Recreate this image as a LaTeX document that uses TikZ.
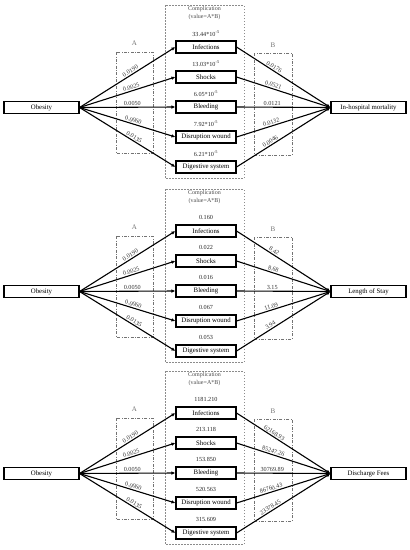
\documentclass[tikz,border=0pt]{standalone}
\usepackage{fontspec}
\setmainfont{Liberation Serif}
\usetikzlibrary{arrows.meta}

\tikzset{
  var/.style={draw, line width=1.1pt, fill=white, minimum width=75pt, minimum height=12pt,
    inner sep=0pt, font=\fontsize{6.8}{7}\selectfont},
  comp/.style={var, minimum width=60pt},
  link/.style={line width=1.1pt, -{Latex[length=4pt,width=3.5pt]}},
  coef/.style={sloped, above, inner sep=1pt, text=black!80, font=\fontsize{6.2}{7}\selectfont},
  valtxt/.style={inner sep=0pt, text=black!85, font=\fontsize{6.2}{7}\selectfont},
  lbl/.style={inner sep=0pt, text=black!70, font=\fontsize{6}{7}\selectfont},
  cbox/.style={draw=black!45, thin, dash pattern=on 1.5pt off 1.5pt},
  abox/.style={draw=black!55, thin, dash pattern=on 3pt off 1.5pt on 0.8pt off 1.5pt}
}

% one mediation panel: #1 id, #2 vertical offset, #3 outcome, #4 complication/value/A/B
\newcommand{\medpanel}[4]{%
  \begin{scope}[yshift=-#2pt]
    % Complication frame
    \draw[cbox] (165,5) rectangle (244,178);
    \node[lbl] (cmp#1) at (204.5,9.5) {Complication};
    \node[lbl] (ab#1) at (204.5,17.5) {(value=A*B)};
    % A and B frames
    \draw[abox] (116,52) rectangle (153,153);
    \node[lbl, text=black!55, font=\fontsize{7}{8}\selectfont] (A#1) at (134.5,43) {A};
    \draw[abox] (254,53) rectangle (292,155);
    \node[lbl, text=black!55, font=\fontsize{7}{8}\selectfont] (B#1) at (273,45) {B};
    % Exposure and outcome
    \node[var] (obe#1) at (41.5,107.5) {Obesity};
    \node[var] (out#1) at (368.5,107.5) {#3};
    % Complications and paths
    \foreach \comp/\val/\av/\bv [count=\i] in {#4} {
      \node[comp] (c#1\i) at (206,17+30*\i) {\comp};
      \node[valtxt] (v#1\i) at (206,3.5+30*\i) {\val};
      \draw[link] (obe#1.east) -- (c#1\i.west) node[coef, pos=0.55] {\av};
      \draw[link] (c#1\i.east) -- (out#1.west) node[coef, pos=0.38] {\bv};
    }
  \end{scope}}

\begin{document}
\begin{tikzpicture}[x=1pt, y=-1pt]
  \useasboundingbox (0,0) rectangle (410,550);

  % In-hospital mortality
  \medpanel{1}{0}{In-hospital mortality}{
    Infections/33.44*10\textsuperscript{-5}/0.0190/0.0176,
    Shocks/13.03*10\textsuperscript{-5}/0.0025/0.0521,
    Bleeding/6.05*10\textsuperscript{-5}/0.0050/0.0121,
    Disruption wound/7.92*10\textsuperscript{-5}/0.0060/0.0132,
    Digestive system/6.21*10\textsuperscript{-5}/0.0135/0.0046}

  % Length of stay
  \medpanel{2}{184}{Length of Stay}{
    Infections/0.160/0.0190/8.42,
    Shocks/0.022/0.0025/8.68,
    Bleeding/0.016/0.0050/3.15,
    Disruption wound/0.067/0.0060/11.09,
    Digestive system/0.053/0.0135/3.94}

  % Discharge fees
  \medpanel{3}{366}{Discharge Fees}{
    Infections/1181.210/0.0190/62168.93,
    Shocks/213.118/0.0025/85247.26,
    Bleeding/153.850/0.0050/30769.89,
    Disruption wound/520.563/0.0060/86760.43,
    Digestive system/315.609/0.0135/23378.45}
\end{tikzpicture}
\end{document}
